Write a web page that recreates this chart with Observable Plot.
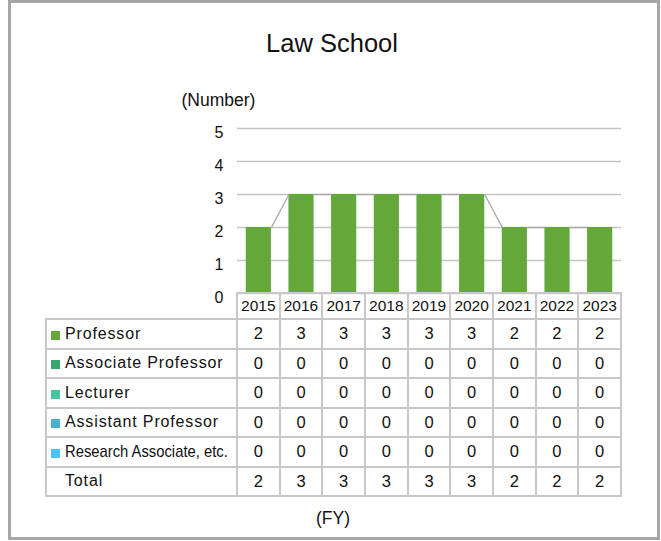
<!DOCTYPE html>
<html>
<head>
<meta charset="utf-8">
<script src="https://cdn.jsdelivr.net/npm/d3@7"></script>
<script src="https://cdn.jsdelivr.net/npm/@observablehq/plot@0.6"></script>
<style>
  html, body { margin: 0; padding: 0; background: #fff; }
  body { width: 661px; height: 541px; position: relative; overflow: hidden;
         font-family: "Liberation Sans", Arial, sans-serif; color: #111; }
  #frame { position: absolute; left: 8px; top: 0px; width: 646px; height: 534px;
           border: 3px solid #a6a6a6; }
  #title { position: absolute; left: 0; width: 664px; top: 31px; text-align: center;
           font-size: 25.5px; line-height: 25px; }
  #ylabel { position: absolute; left: 160px; width: 117px; top: 92px; text-align: center;
            font-size: 17.5px; line-height: 17px; }
  #chart { position: absolute; left: 0; top: 100px; }
  #xlabel { position: absolute; left: 0; width: 666px; top: 510px; text-align: center;
            font-size: 17.5px; line-height: 17px; }
  #tbl { position: absolute; left: 45px; top: 292px; border-collapse: collapse;
         table-layout: fixed; width: 577px; }
  #tbl td { border: 2px solid #c8c8c8; padding: 0; text-align: center; vertical-align: middle;
            font-size: 16.5px; white-space: nowrap; overflow: visible; }
  #tbl tr.hdr td { height: 24px; font-size: 15.5px; }
  #tbl tr.row td { height: 27.5px; }
  #tbl td.blank { border-top: none; border-left: none; }
  #tbl td.lab { text-align: left; padding-left: 4px; letter-spacing: 0.85px; font-size: 16px; }
  #tbl td.lab.total { padding-left: 18px; }
  .sw { display: inline-block; width: 9px; height: 9px; margin-right: 5px; vertical-align: -1px; }
  .narrow { display: inline-block; letter-spacing: 0; font-size: 17px;
            transform: scaleX(0.87); transform-origin: left center; }
</style>
</head>
<body>
<div id="frame"></div>
<div id="title">Law School</div>
<div id="ylabel">(Number)</div>
<div id="chart"></div>
<table id="tbl"></table>
<div id="xlabel">(FY)</div>
<script>
// ---- data ----
const years = ["2015", "2016", "2017", "2018", "2019", "2020", "2021", "2022", "2023"];
const series = ["Professor", "Associate Professor", "Lecturer", "Assistant Professor", "Research Associate, etc."];
const professor = [2, 3, 3, 3, 3, 3, 2, 2, 2];
const associateProfessor = [0, 0, 0, 0, 0, 0, 0, 0, 0];
const lecturer = [0, 0, 0, 0, 0, 0, 0, 0, 0];
const assistantProfessor = [0, 0, 0, 0, 0, 0, 0, 0, 0];
const researchAssociate = [0, 0, 0, 0, 0, 0, 0, 0, 0];
const seriesColors = ["#64a83a", "#39a66f", "#47c3a0", "#4ab0cf", "#4fc2f5"];
const yTicks = [0, 1, 2, 3, 4, 5];

// ---- derived ----
const seriesValues = [professor, associateProfessor, lecturer, assistantProfessor, researchAssociate];
const totals = years.map((y, i) => seriesValues.reduce((s, v) => s + v[i], 0));
const BAR_L = 0.205, BAR_R = 0.795; // bar occupies this fraction of each year slot
const rects = [];
years.forEach((yr, i) => {
  let base = 0;
  series.forEach((s, si) => {
    const v = seriesValues[si][i];
    rects.push({series: s, i, year: yr, y1: base, y2: base + v});
    base += v;
  });
});
const links = years.slice(0, -1).map((yr, i) => ({
  x1: i + BAR_R, y1: totals[i], x2: i + 1 + BAR_L, y2: totals[i + 1]
}));

const chart = Plot.plot({
  width: 661,
  height: 200,
  marginLeft: 237,
  marginRight: 40,
  marginTop: 28,
  marginBottom: 7,
  style: {fontFamily: "'Liberation Sans', Arial, sans-serif", fontSize: "16px", color: "#111", background: "transparent", overflow: "visible"},
  x: {type: "linear", domain: [0, years.length], axis: null},
  y: {domain: [0, 5], axis: null},
  color: {domain: series, range: seriesColors},
  marks: [
    Plot.ruleY(yTicks, {stroke: "#c4c4c4", strokeWidth: 1.5}),
    Plot.axisY(yTicks, {tickSize: 0, tickPadding: 14, label: null, fontSize: 16, dy: 4, tickFormat: d => String(d)}),
    Plot.rect(rects.filter(d => d.y2 > d.y1), {
      x1: d => d.i + BAR_L, x2: d => d.i + BAR_R, y1: "y1", y2: "y2", fill: "series"
    }),
    Plot.link(links, {x1: "x1", y1: "y1", x2: "x2", y2: "y2", stroke: "#a6a6a6", strokeWidth: 1.3})
  ]
});
document.getElementById("chart").appendChild(chart);

// ---- data table ----
const tbl = document.getElementById("tbl");
let html = '<colgroup><col style="width:191px">' + years.map(() => '<col style="width:42.67px">').join("") + '</colgroup>';
html += '<tr class="hdr"><td class="blank"></td>' + years.map(y => `<td>${y}</td>`).join("") + '</tr>';
series.forEach((s, si) => {
  const label = s === "Research Associate, etc." ? `<span class="narrow">${s}</span>` : s;
  html += `<tr class="row"><td class="lab"><span class="sw" style="background:${seriesColors[si]}"></span>${label}</td>` +
    seriesValues[si].map(v => `<td>${v}</td>`).join("") + '</tr>';
});
html += '<tr class="row"><td class="lab total">Total</td>' + totals.map(v => `<td>${v}</td>`).join("") + '</tr>';
tbl.innerHTML = html;
</script>
</body>
</html>
